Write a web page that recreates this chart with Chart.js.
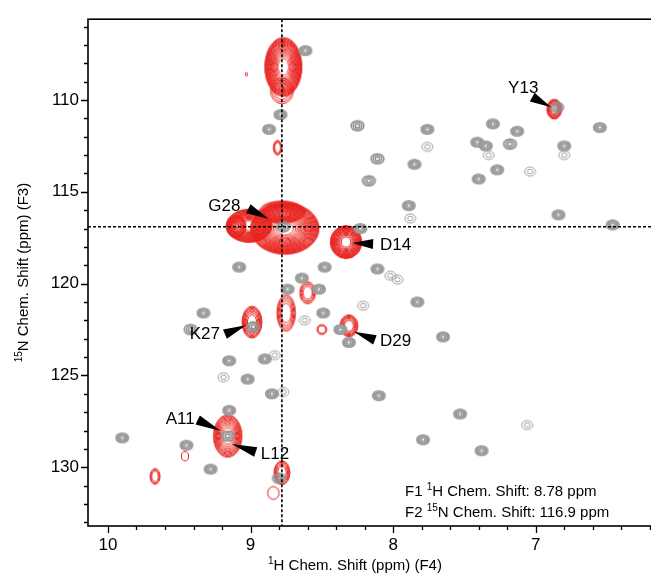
<!DOCTYPE html>
<html><head><meta charset="utf-8">
<script src="https://cdn.jsdelivr.net/npm/chart.js@4.4.1/dist/chart.umd.min.js"></script>
<style>
html,body{margin:0;padding:0;overflow:hidden;background:#fff;width:651px;height:576px}
#wrap{width:670px;height:576px;position:relative}
</style></head>
<body><div id="wrap"><canvas id="c" width="670" height="576"></canvas></div>
<script>
// ---------- data ----------
const xTicks = [10, 9, 8, 7];
const yTicks = [110, 115, 120, 125, 130];
const xTitle = '^1H Chem. Shift (ppm) (F4)';
const yTitle = '^15N Chem. Shift (ppm) (F3)';
const crossH = 8.78;
const crossN = 116.9;

// reference (grey) peaks: 1H ppm, 15N ppm, contour intensity (3 strong, 2 medium, 1 weak)
const grayH = [8.615,8.79,8.87,8.25,7.76,7.76,8.11,7.85,8.17,7.89,7.88,8.77,8.23,7.30,7.13,7.41,7.35,7.33,7.18,6.80,6.80,6.55,7.04,7.27,7.40,6.84,6.46,8.11,8.02,7.97,9.08,8.48,8.64,8.52,8.74,7.83,8.21,9.33,8.49,8.62,8.98,9.42,8.37,8.31,7.65,9.15,8.90,8.83,9.19,9.02,8.85,8.77,8.10,9.15,9.16,7.79,9.90,9.45,9.28,8.80,7.53,7.06,7.38,6.85];
const grayN = [107.31,110.8,111.6,111.4,111.6,112.55,113.2,113.5,114.4,115.75,116.45,116.9,117.0,111.3,111.7,112.3,112.5,113.0,112.4,112.5,113.0,111.5,113.9,113.8,114.3,116.25,116.8,119.2,119.57,119.78,119.1,119.1,119.7,120.3,120.3,121.0,121.2,121.6,121.6,122.0,122.35,122.5,122.5,123.2,122.9,124.2,124.1,123.9,125.1,125.2,126.0,125.9,126.1,126.9,128.3,128.5,128.4,128.8,130.1,130.6,127.1,127.7,129.1,110.4];
const grayLevel = [3,3,3,2,3,1,2,3,2,3,1,2,3,3,3,3,3,1,2,3,1,3,1,3,3,3,3,3,1,1,3,3,3,3,3,3,1,3,3,1,2,2,3,3,3,3,3,1,1,3,3,1,3,3,2,3,3,3,3,2,3,1,3,2];

// bound (red) peaks: 1H ppm, 15N ppm, half-widths (ppm), number of contour levels
const redH      = [8.77,8.78,9.03,8.81,8.76,8.78,9.01,9.10,8.33,8.60,8.75,8.99,8.50,8.31,9.16,9.46,9.67,8.78,8.84,6.87];
const redN      = [108.2,109.5,108.6,112.6,117.0,116.1,116.85,116.9,117.74,120.5,121.6,122.1,122.5,122.3,128.3,129.4,130.5,130.3,131.4,110.5];
const redWidthH = [0.13,0.08,0.008,0.03,0.24,0.16,0.16,0.07,0.11,0.055,0.065,0.07,0.035,0.063,0.10,0.025,0.035,0.056,0.04,0.052];
const redWidthN = [1.6,0.7,0.1,0.4,1.4,0.6,0.9,0.6,0.9,0.6,1.0,0.87,0.27,0.6,1.15,0.25,0.43,0.65,0.35,0.54];
const redLevels = [18,3,1,3,24,8,16,7,16,4,5,7,2,6,10,1,3,5,1,7];

// assignments
const labelNames = ['Y13','G28','D14','K27','D29','A11','L12'];
const labelH = [6.87,8.77,8.33,8.99,8.31,9.16,9.16];
const labelN = [110.5,116.9,117.74,122.1,122.3,128.3,128.3];

const infoLines = ['F1 ^1H Chem. Shift: ' + crossH + ' ppm', 'F2 ^15N Chem. Shift: ' + crossN + ' ppm'];

// ---------- styling ----------
const FONT = 'Liberation Sans, Arial, Helvetica, sans-serif';
const xMin = 6.1, xMax = 10.14, yMin = 105.6, yMax = 133.2;
const RED = 'rgb(232,34,30)';
// label geometry relative to the peak pixel: tip, wedge base, text anchor, align
const labelLayout = [
  {tip:[-3,-2], base:[-22,-12], text:[-31,-21], align:'center'},
  {tip:[-15,-8], base:[-35,-18], text:[-59,-20], align:'center'},
  {tip:[6,1], base:[27,2], text:[34,3], align:'left'},
  {tip:[-6,3], base:[-27,12], text:[-32,12], align:'right'},
  {tip:[5,6], base:[26,14], text:[31,15], align:'left'},
  {tip:[-7,-5], base:[-30,-16], text:[-33,-17], align:'right'},
  {tip:[4,8], base:[28,16], text:[33,18], align:'left'}
];

function newCanvas(rx, ry){
  const c = document.createElement('canvas');
  c.width = Math.ceil(2*rx + 4); c.height = Math.ceil(2*ry + 4);
  return c;
}
const grayCache = {};
function grayCanvas(level){
  if (grayCache[level]) return grayCache[level];
  let c, g;
  if (level === 3){
    const rx = 7, ry = 5.5;
    c = newCanvas(rx, ry); g = c.getContext('2d');
    const cx = c.width/2, cy = c.height/2;
    g.fillStyle = 'rgb(148,148,148)';
    g.beginPath(); g.ellipse(cx, cy, rx, ry, 0, 0, 2*Math.PI); g.fill();
    g.strokeStyle = 'rgb(175,175,175)'; g.lineWidth = 0.8;
    g.beginPath(); g.ellipse(cx, cy, rx*0.78, ry*0.78, 0, 0, 2*Math.PI); g.stroke();
    g.strokeStyle = 'rgb(190,190,190)';
    g.beginPath(); g.ellipse(cx, cy, rx*0.42, ry*0.42, 0, 0, 2*Math.PI); g.stroke();
    g.fillStyle = '#fff';
    g.beginPath(); g.ellipse(cx, cy, 1.2, 1, 0, 0, 2*Math.PI); g.fill();
  } else if (level === 2){
    const rx = 6.5, ry = 5;
    c = newCanvas(rx, ry); g = c.getContext('2d');
    const cx = c.width/2, cy = c.height/2;
    g.strokeStyle = 'rgb(145,145,145)'; g.lineWidth = 1.5;
    [1, 0.68, 0.36].forEach(f => { g.beginPath(); g.ellipse(cx, cy, rx*f, ry*f, 0, 0, 2*Math.PI); g.stroke(); });
  } else {
    const rx = 5.5, ry = 4.5;
    c = newCanvas(rx, ry); g = c.getContext('2d');
    const cx = c.width/2, cy = c.height/2;
    g.strokeStyle = 'rgb(155,155,155)'; g.lineWidth = 1;
    [1, 0.5].forEach(f => { g.beginPath(); g.ellipse(cx, cy, rx*f, ry*f, 0, 0, 2*Math.PI); g.stroke(); });
  }
  grayCache[level] = c;
  return c;
}
const redCache = {};
function redCanvas(i, chart){
  const xs = chart.scales.x, ys = chart.scales.y;
  const rx = Math.abs(xs.getPixelForValue(redH[i] + redWidthH[i]) - xs.getPixelForValue(redH[i]));
  const ry = Math.abs(ys.getPixelForValue(redN[i] + redWidthN[i]) - ys.getPixelForValue(redN[i]));
  const key = i + ':' + rx.toFixed(2) + ':' + ry.toFixed(2);
  if (redCache[key]) return redCache[key];
  const c = newCanvas(rx, ry), g = c.getContext('2d');
  const cx = c.width/2, cy = c.height/2, n = redLevels[i];
  g.strokeStyle = RED; g.lineWidth = 1;
  for (let k = 0; k < n; k++){
    const f = Math.sqrt(1 - k/(n + 0.6));
    g.beginPath(); g.ellipse(cx, cy, Math.max(rx*f, 0.6), Math.max(ry*f, 0.6), 0, 0, 2*Math.PI); g.stroke();
  }
  redCache[key] = c;
  return c;
}

function drawRich(ctx, str, x, y, size, align){
  // '^digits' are drawn as superscripts
  const parts = str.split(/\^(\d+)/);
  const segs = parts.map((t, j) => ({t, sup: j % 2 === 1}));
  const supSize = Math.round(size*0.68);
  let total = 0;
  segs.forEach(s => { ctx.font = (s.sup ? supSize : size) + 'px ' + FONT; s.w = ctx.measureText(s.t).width; total += s.w; });
  let cx = align === 'center' ? x - total/2 : (align === 'right' ? x - total : x);
  ctx.textAlign = 'left'; ctx.textBaseline = 'middle';
  segs.forEach(s => {
    ctx.font = (s.sup ? supSize : size) + 'px ' + FONT;
    ctx.fillText(s.t, cx, s.sup ? y - size*0.3 : y);
    cx += s.w;
  });
}

const framePlugin = {
  id: 'frame',
  afterDatasetsDraw(chart){
    const {ctx, chartArea: a, scales: {x, y}} = chart;
    ctx.save();
    // assignment labels with wedges
    labelNames.forEach((name, i) => {
      const px = x.getPixelForValue(labelH[i]), py = y.getPixelForValue(labelN[i]);
      const L = labelLayout[i];
      const tx = px + L.tip[0], ty = py + L.tip[1], bx = px + L.base[0], by = py + L.base[1];
      const dx = bx - tx, dy = by - ty, len = Math.hypot(dx, dy), nx = -dy/len, ny = dx/len, hw = 5;
      ctx.fillStyle = '#000';
      ctx.beginPath(); ctx.moveTo(tx, ty); ctx.lineTo(bx + nx*hw, by + ny*hw); ctx.lineTo(bx - nx*hw, by - ny*hw); ctx.closePath(); ctx.fill();
      ctx.font = '17px ' + FONT; ctx.textAlign = L.align; ctx.textBaseline = 'middle';
      ctx.fillText(name, px + L.text[0], py + L.text[1]);
    });
    ctx.restore();
  },
  afterDraw(chart){
    const {ctx, chartArea: a, scales: {x, y}} = chart;
    ctx.save();
    ctx.strokeStyle = '#000'; ctx.lineWidth = 1.6;
    ctx.strokeRect(a.left, a.top, a.right - a.left, a.bottom - a.top);
    ctx.lineWidth = 1.3;
    ctx.beginPath();
    for (let k = 31; k <= 50; k++){
      const v = k/5, px = Math.round(x.getPixelForValue(v)) + 0.5, major = k % 5 === 0;
      ctx.moveTo(px, a.bottom); ctx.lineTo(px, a.bottom + (major ? 7 : 4));
    }
    for (let v = 106; v <= 133; v++){
      const py = Math.round(y.getPixelForValue(v)) + 0.5, major = v % 5 === 0;
      ctx.moveTo(a.left, py); ctx.lineTo(a.left - (major ? 7 : 4), py);
    }
    ctx.stroke();
    ctx.fillStyle = '#000';
    // info box
    drawRich(ctx, infoLines[0], 405, a.bottom - 34, 15, 'left');
    drawRich(ctx, infoLines[1], 405, a.bottom - 13, 15, 'left');
    // axis titles
    drawRich(ctx, xTitle, 355, 566, 15, 'center');
    ctx.translate(24, (a.top + a.bottom)/2);
    ctx.rotate(-Math.PI/2);
    drawRich(ctx, yTitle, 0, 0, 15, 'center');
    ctx.restore();
  }
};

new Chart(document.getElementById('c'), {
  type: 'scatter',
  data: { datasets: [
    { label: 'F1 cursor', type: 'line', data: [{x: crossH, y: yMin}, {x: crossH, y: yMax}], borderColor: '#000', borderWidth: 1.6, borderDash: [3, 2], pointRadius: 0, fill: false },
    { label: 'F2 cursor', type: 'line', data: [{x: xMax, y: crossN}, {x: xMin, y: crossN}], borderColor: '#000', borderWidth: 1.6, borderDash: [3, 2], pointRadius: 0, fill: false },
    { label: 'reference', data: grayH.map((h, i) => ({x: h, y: grayN[i]})), pointRadius: 3, pointStyle: ctx => grayCanvas(grayLevel[ctx.dataIndex]) },
    { label: 'bound', data: redH.map((h, i) => ({x: h, y: redN[i]})), pointRadius: 3, pointStyle: ctx => redCanvas(ctx.dataIndex, ctx.chart) }
  ]},
  options: {
    responsive: false, animation: false, devicePixelRatio: 1,
    layout: { padding: { left: 0, right: 6, top: 15, bottom: 0 } },
    plugins: { legend: { display: false }, tooltip: { enabled: false } },
    scales: {
      x: {
        type: 'linear', reverse: true, min: xMin, max: xMax,
        afterFit: s => { s.height = 50; },
        afterBuildTicks: s => { s.ticks = xTicks.map(v => ({value: v})); },
        grid: { display: true, drawOnChartArea: false, drawTicks: false },
        border: { display: false },
        ticks: { color: '#000', font: { family: FONT, size: 17 }, padding: 9, maxRotation: 0, autoSkip: false }
      },
      y: {
        type: 'linear', reverse: true, min: yMin, max: yMax,
        afterFit: s => { s.width = 88; },
        afterBuildTicks: s => { s.ticks = yTicks.map(v => ({value: v})); },
        grid: { display: true, drawOnChartArea: false, drawTicks: false },
        border: { display: false },
        ticks: { color: '#000', font: { family: FONT, size: 17 }, padding: 9, autoSkip: false }
      }
    }
  },
  plugins: [framePlugin]
});
</script></body></html>
